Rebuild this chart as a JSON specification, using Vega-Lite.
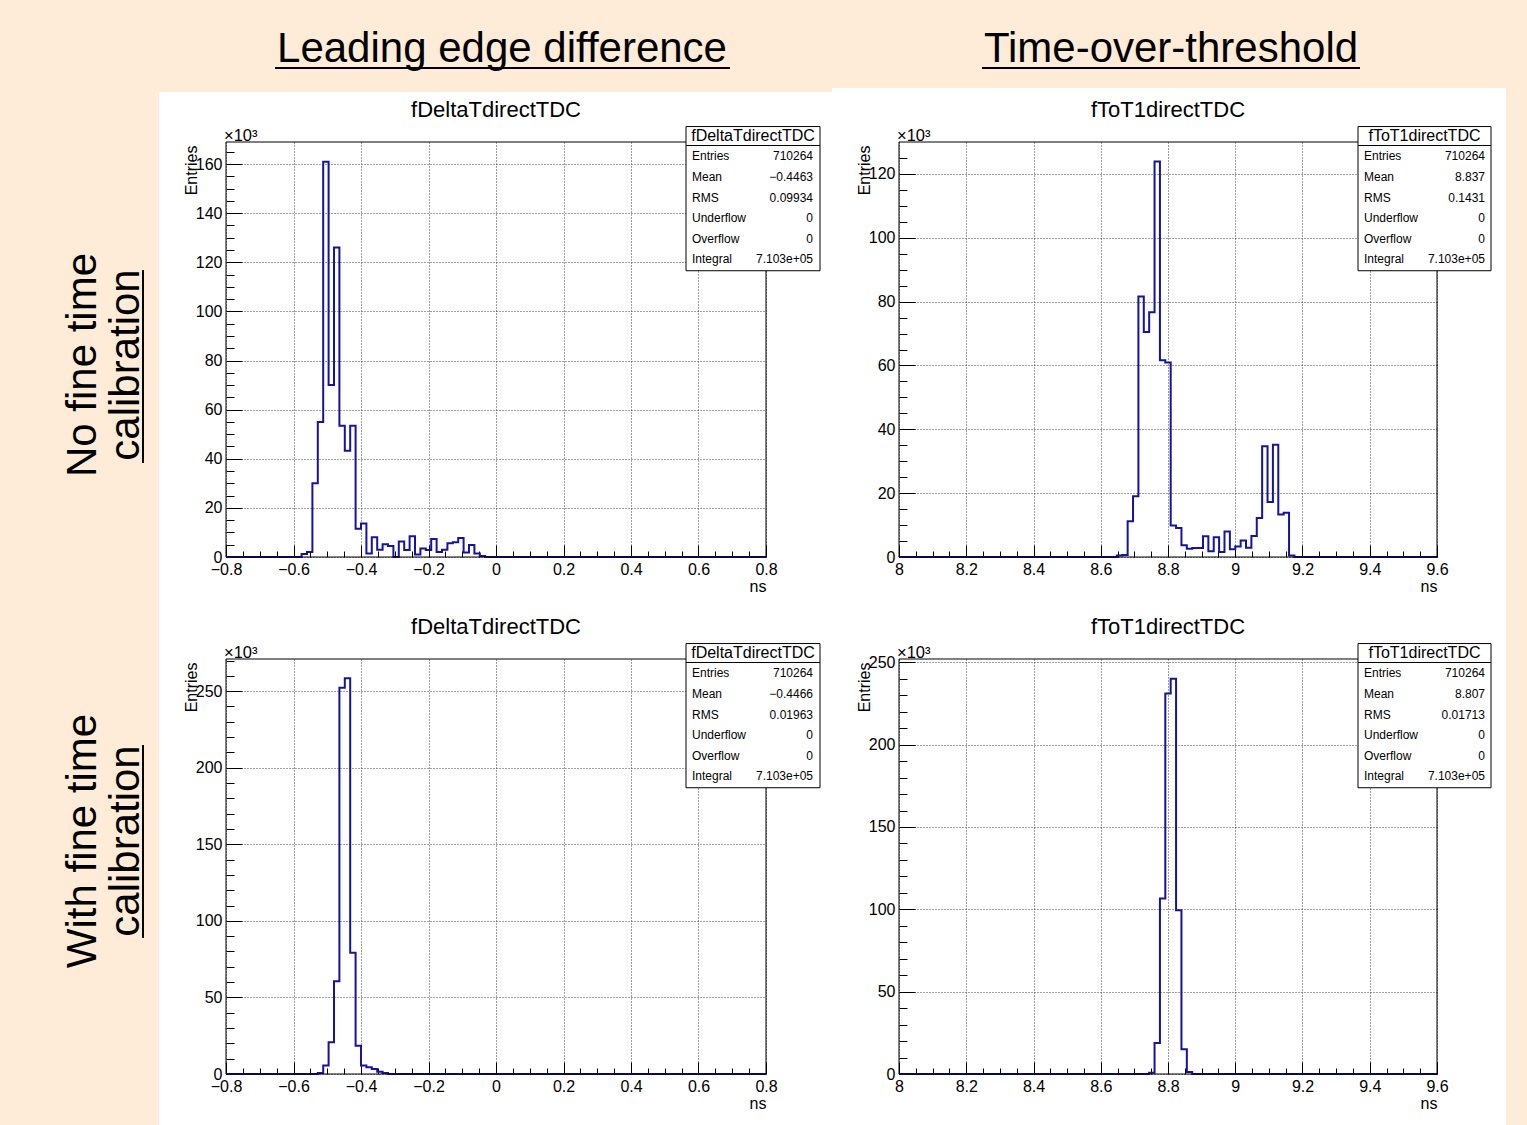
{
  "$schema": "https://vega.github.io/schema/vega-lite/v6.json",
  "background": "white",
  "autosize": {"type": "none"},
  "padding": {"left": 226, "top": 142, "right": 1301, "bottom": 983},
  "config": {
    "font": "Liberation Sans",
    "view": {"stroke": null},
    "text": {"color": "#000"},
    "axis": {
      "domain": false, "tickColor": "#000", "tickWidth": 1, "labelColor": "#000", "labelFontSize": 16,
      "labelFlush": false, "labelOverlap": false, "gridColor": "#222", "gridDash": [1, 2], "gridWidth": 1,
      "gridOpacity": 0.85, "titleColor": "#000", "titleFontWeight": "normal", "titleFontSize": 16
    }
  },
  "datasets": {
    "one": [{}],
    "hTL": [{"ns":-0.8,"kEntries":0},{"ns":-0.576,"kEntries":1.2},{"ns":-0.56,"kEntries":2},{"ns":-0.544,"kEntries":30},{"ns":-0.528,"kEntries":55},{"ns":-0.512,"kEntries":161},{"ns":-0.496,"kEntries":70},{"ns":-0.48,"kEntries":126},{"ns":-0.464,"kEntries":53.4},{"ns":-0.448,"kEntries":43.3},{"ns":-0.432,"kEntries":53.4},{"ns":-0.416,"kEntries":11.5},{"ns":-0.4,"kEntries":13.6},{"ns":-0.384,"kEntries":1.4},{"ns":-0.368,"kEntries":8},{"ns":-0.352,"kEntries":3},{"ns":-0.336,"kEntries":5.2},{"ns":-0.32,"kEntries":4.5},{"ns":-0.304,"kEntries":0},{"ns":-0.288,"kEntries":6.3},{"ns":-0.272,"kEntries":2.8},{"ns":-0.256,"kEntries":8.4},{"ns":-0.24,"kEntries":1},{"ns":-0.224,"kEntries":3.5},{"ns":-0.208,"kEntries":2.8},{"ns":-0.192,"kEntries":7.3},{"ns":-0.176,"kEntries":2},{"ns":-0.16,"kEntries":3},{"ns":-0.144,"kEntries":5.6},{"ns":-0.128,"kEntries":6},{"ns":-0.112,"kEntries":7.7},{"ns":-0.096,"kEntries":1.8},{"ns":-0.08,"kEntries":4.9},{"ns":-0.064,"kEntries":1.4},{"ns":-0.048,"kEntries":0.4},{"ns":-0.032,"kEntries":0},{"ns":0.8,"kEntries":0}],
    "hTR": [{"ns":8,"kEntries":0},{"ns":8.648,"kEntries":0.5},{"ns":8.664,"kEntries":0.6},{"ns":8.68,"kEntries":11.2},{"ns":8.696,"kEntries":19},{"ns":8.712,"kEntries":81.6},{"ns":8.728,"kEntries":70.5},{"ns":8.744,"kEntries":76.7},{"ns":8.76,"kEntries":123.9},{"ns":8.776,"kEntries":61.6},{"ns":8.792,"kEntries":60.9},{"ns":8.808,"kEntries":9.9},{"ns":8.824,"kEntries":9.1},{"ns":8.84,"kEntries":3.7},{"ns":8.856,"kEntries":2.6},{"ns":8.872,"kEntries":2.8},{"ns":8.888,"kEntries":2.8},{"ns":8.904,"kEntries":6.5},{"ns":8.92,"kEntries":1.8},{"ns":8.936,"kEntries":6.2},{"ns":8.952,"kEntries":1.6},{"ns":8.968,"kEntries":8},{"ns":8.984,"kEntries":2.4},{"ns":9,"kEntries":3.3},{"ns":9.016,"kEntries":5.2},{"ns":9.032,"kEntries":2.9},{"ns":9.048,"kEntries":6.6},{"ns":9.064,"kEntries":12.2},{"ns":9.08,"kEntries":34.7},{"ns":9.096,"kEntries":17.2},{"ns":9.112,"kEntries":35.2},{"ns":9.128,"kEntries":13.3},{"ns":9.144,"kEntries":13.9},{"ns":9.16,"kEntries":0.5},{"ns":9.176,"kEntries":0},{"ns":9.6,"kEntries":0}],
    "hBL": [{"ns":-0.8,"kEntries":0},{"ns":-0.528,"kEntries":0.6},{"ns":-0.512,"kEntries":5.5},{"ns":-0.496,"kEntries":20.7},{"ns":-0.48,"kEntries":60.6},{"ns":-0.464,"kEntries":252.2},{"ns":-0.448,"kEntries":258.5},{"ns":-0.432,"kEntries":79.1},{"ns":-0.416,"kEntries":18.5},{"ns":-0.4,"kEntries":5.5},{"ns":-0.384,"kEntries":4.4},{"ns":-0.368,"kEntries":3.3},{"ns":-0.352,"kEntries":1.5},{"ns":-0.336,"kEntries":0.6},{"ns":-0.32,"kEntries":0},{"ns":0.8,"kEntries":0}],
    "hBR": [{"ns":8,"kEntries":0},{"ns":8.744,"kEntries":0.8},{"ns":8.76,"kEntries":18.9},{"ns":8.776,"kEntries":106.5},{"ns":8.792,"kEntries":231},{"ns":8.808,"kEntries":240},{"ns":8.824,"kEntries":99.5},{"ns":8.84,"kEntries":15},{"ns":8.856,"kEntries":1.2},{"ns":8.872,"kEntries":0},{"ns":9.6,"kEntries":0}],
    "sTL": [{"line":1,"label":"Entries","value":"710264"},{"line":2,"label":"Mean","value":"−0.4463"},{"line":3,"label":"RMS","value":"0.09934"},{"line":4,"label":"Underflow","value":"0"},{"line":5,"label":"Overflow","value":"0"},{"line":6,"label":"Integral","value":"7.103e+05"}],
    "sTR": [{"line":1,"label":"Entries","value":"710264"},{"line":2,"label":"Mean","value":"8.837"},{"line":3,"label":"RMS","value":"0.1431"},{"line":4,"label":"Underflow","value":"0"},{"line":5,"label":"Overflow","value":"0"},{"line":6,"label":"Integral","value":"7.103e+05"}],
    "sBL": [{"line":1,"label":"Entries","value":"710264"},{"line":2,"label":"Mean","value":"−0.4466"},{"line":3,"label":"RMS","value":"0.01963"},{"line":4,"label":"Underflow","value":"0"},{"line":5,"label":"Overflow","value":"0"},{"line":6,"label":"Integral","value":"7.103e+05"}],
    "sBR": [{"line":1,"label":"Entries","value":"710264"},{"line":2,"label":"Mean","value":"8.807"},{"line":3,"label":"RMS","value":"0.01713"},{"line":4,"label":"Underflow","value":"0"},{"line":5,"label":"Overflow","value":"0"},{"line":6,"label":"Integral","value":"7.103e+05"}]
  },
  "columns": 2,
  "spacing": {"row": 102, "column": 133},
  "bounds": "flush",
  "concat": [
    {
      "width": 540, "height": 415,
      "data": {"name": "one"},
      "layer": [
        {
          "layer": [
            {"mark": {"type": "rect", "fill": "#FEECD9"},
             "encoding": {"x": {"datum": -1.4993, "type": "quantitative", "axis": null, "scale": {"domain": [-0.8, 0.8], "nice": false, "zero": false}}, "x2": {"datum": -0.9985},
                          "y": {"datum": 231, "type": "quantitative", "axis": null, "scale": {"domain": [0, 169], "nice": false, "zero": false}}, "y2": {"datum": -236}}},
            {"mark": {"type": "rect", "fill": "#FEECD9"},
             "encoding": {"x": {"datum": -1.4993, "type": "quantitative", "axis": null}, "x2": {"datum": 0.9956},
                          "y": {"datum": 231, "type": "quantitative", "axis": null}, "y2": {"datum": 189.36}}},
            {"data": {"name": "hTL"},
             "mark": {"type": "line", "interpolate": "step-after", "color": "#14149c", "strokeWidth": 2},
             "encoding": {
               "x": {"field": "ns", "type": "quantitative", "axis": {"orient": "bottom", "values": [-0.8,-0.6,-0.4,-0.2,0,0.2,0.4,0.6,0.8], "labelExpr": "format(datum.value, '~g')", "grid": true, "tickSize": -12, "labelPadding": 16, "title": "ns", "titleAnchor": "end", "titlePadding": 1}},
               "y": {"field": "kEntries", "type": "quantitative", "axis": {"orient": "left", "values": [0,20,40,60,80,100,120,140,160], "labelExpr": "format(datum.value, '~g')", "grid": true, "tickSize": -16, "labelPadding": 20, "title": "Entries", "titleAngle": 270, "titleAlign": "right", "titleBaseline": "alphabetic", "titleX": -30, "titleY": 3}}
             }},
            {"mark": {"type": "rect", "filled": false, "stroke": "#000", "strokeWidth": 1},
             "encoding": {
               "x": {"datum": -0.8, "type": "quantitative", "axis": {"orient": "bottom", "values": [-0.75,-0.7,-0.65,-0.55,-0.5,-0.45,-0.35,-0.3,-0.25,-0.15,-0.1,-0.05,0.05,0.1,0.15,0.25,0.3,0.35,0.45,0.5,0.55,0.65,0.7,0.75], "labels": false, "grid": false, "tickSize": -6, "title": null}},
               "x2": {"datum": 0.8},
               "y": {"datum": 0, "type": "quantitative", "axis": {"orient": "left", "values": [5,10,15,25,30,35,45,50,55,65,70,75,85,90,95,105,110,115,125,130,135,145,150,155,165], "labels": false, "grid": false, "tickSize": -8, "title": null}},
               "y2": {"datum": 169}
             }},
            {"mark": {"type": "text", "text": "×10³", "align": "left", "baseline": "alphabetic", "fontSize": 16.5, "dx": -2, "dy": -1},
             "encoding": {"x": {"datum": -0.8, "type": "quantitative", "axis": null}, "y": {"datum": 169, "type": "quantitative", "axis": null}}},
            {"mark": {"type": "text", "text": "fDeltaTdirectTDC", "align": "center", "baseline": "alphabetic", "fontSize": 22},
             "encoding": {"x": {"datum": 0, "type": "quantitative", "axis": null}, "y": {"datum": 179.18, "type": "quantitative", "axis": null}}},
            {"mark": {"type": "text", "text": "Leading edge difference", "align": "center", "baseline": "alphabetic", "fontSize": 42},
             "encoding": {"x": {"datum": 0.0178, "type": "quantitative", "axis": null}, "y": {"datum": 201.58, "type": "quantitative", "axis": null}}},
            {"mark": {"type": "rule", "stroke": "#000", "strokeWidth": 2},
             "encoding": {"x": {"datum": -0.6548, "type": "quantitative", "axis": null}, "x2": {"datum": 0.6933}, "y": {"datum": 199.14, "type": "quantitative", "axis": null}}},
            {"mark": {"type": "text", "text": "No fine time", "align": "center", "baseline": "alphabetic", "angle": 270, "fontSize": 42},
             "encoding": {"x": {"datum": -1.1852, "type": "quantitative", "axis": null}, "y": {"datum": 78.19, "type": "quantitative", "axis": null}}},
            {"mark": {"type": "text", "text": "calibration", "align": "center", "baseline": "alphabetic", "angle": 270, "fontSize": 42},
             "encoding": {"x": {"datum": -1.0578, "type": "quantitative", "axis": null}, "y": {"datum": 78.19, "type": "quantitative", "axis": null}}},
            {"mark": {"type": "rule", "stroke": "#000", "strokeWidth": 2},
             "encoding": {"x": {"datum": -1.0459, "type": "quantitative", "axis": null}, "y": {"datum": 116.87, "type": "quantitative", "axis": null}, "y2": {"datum": 38.28}}}
          ],
          "resolve": {"axis": {"x": "independent", "y": "independent"}}
        },
        {
          "layer": [
            {"mark": {"type": "rect", "fill": "white", "stroke": "#000", "strokeWidth": 1},
             "encoding": {"x": {"datum": 0.563, "type": "quantitative", "axis": null}, "x2": {"datum": 0.96},
                          "y": {"datum": -0.45, "type": "quantitative", "axis": null, "scale": {"domain": [0.3, 20.446], "reverse": true, "nice": false, "zero": false}}, "y2": {"datum": 6.55}}},
            {"mark": {"type": "rule", "stroke": "#000", "strokeWidth": 1},
             "encoding": {"x": {"datum": 0.563, "type": "quantitative", "axis": null}, "x2": {"datum": 0.96}, "y": {"datum": 0.47, "type": "quantitative", "axis": null}}},
            {"mark": {"type": "text", "text": "fDeltaTdirectTDC", "align": "center", "baseline": "middle", "fontSize": 16},
             "encoding": {"x": {"datum": 0.7615, "type": "quantitative", "axis": null}, "y": {"datum": 0, "type": "quantitative", "axis": null}}},
            {"data": {"name": "sTL"},
             "mark": {"type": "text", "align": "left", "baseline": "middle", "fontSize": 12},
             "encoding": {"x": {"datum": 0.5807, "type": "quantitative", "axis": null}, "y": {"field": "line", "type": "quantitative", "axis": null}, "text": {"field": "label"}}},
            {"data": {"name": "sTL"},
             "mark": {"type": "text", "align": "right", "baseline": "middle", "fontSize": 12},
             "encoding": {"x": {"datum": 0.9393, "type": "quantitative", "axis": null}, "y": {"field": "line", "type": "quantitative", "axis": null}, "text": {"field": "value"}}}
          ]
        }
      ],
      "resolve": {"scale": {"y": "independent"}, "axis": {"x": "independent", "y": "independent"}}
    },
    {
      "width": 538, "height": 415,
      "data": {"name": "one"},
      "layer": [
        {
          "layer": [
            {"mark": {"type": "rect", "fill": "#FEECD9"},
             "encoding": {"x": {"datum": 7.7948, "type": "quantitative", "axis": null, "scale": {"domain": [8, 9.6], "nice": false, "zero": false}}, "x2": {"datum": 9.9063},
                          "y": {"datum": 177.6, "type": "quantitative", "axis": null, "scale": {"domain": [0, 130], "nice": false, "zero": false}}, "y2": {"datum": 146.9}}},
            {"mark": {"type": "rect", "fill": "#FEECD9"},
             "encoding": {"x": {"datum": 9.8052, "type": "quantitative", "axis": null}, "x2": {"datum": 9.9063},
                          "y": {"datum": 177.6, "type": "quantitative", "axis": null}, "y2": {"datum": -181.1}}},
            {"data": {"name": "hTR"},
             "mark": {"type": "line", "interpolate": "step-after", "color": "#14149c", "strokeWidth": 2},
             "encoding": {
               "x": {"field": "ns", "type": "quantitative", "axis": {"orient": "bottom", "values": [8,8.2,8.4,8.6,8.8,9,9.2,9.4,9.6], "labelExpr": "format(datum.value, '~g')", "grid": true, "tickSize": -12, "labelPadding": 16, "title": "ns", "titleAnchor": "end", "titlePadding": 1}},
               "y": {"field": "kEntries", "type": "quantitative", "axis": {"orient": "left", "values": [0,20,40,60,80,100,120], "labelExpr": "format(datum.value, '~g')", "grid": true, "tickSize": -16, "labelPadding": 20, "title": "Entries", "titleAngle": 270, "titleAlign": "right", "titleBaseline": "alphabetic", "titleX": -30, "titleY": 3}}
             }},
            {"mark": {"type": "rect", "filled": false, "stroke": "#000", "strokeWidth": 1},
             "encoding": {
               "x": {"datum": 8, "type": "quantitative", "axis": {"orient": "bottom", "values": [8.05,8.1,8.15,8.25,8.3,8.35,8.45,8.5,8.55,8.65,8.7,8.75,8.85,8.9,8.95,9.05,9.1,9.15,9.25,9.3,9.35,9.45,9.5,9.55], "labels": false, "grid": false, "tickSize": -6, "title": null}},
               "x2": {"datum": 9.6},
               "y": {"datum": 0, "type": "quantitative", "axis": {"orient": "left", "values": [5,10,15,25,30,35,45,50,55,65,70,75,85,90,95,105,110,115,125], "labels": false, "grid": false, "tickSize": -8, "title": null}},
               "y2": {"datum": 130}
             }},
            {"mark": {"type": "text", "text": "×10³", "align": "left", "baseline": "alphabetic", "fontSize": 16.5, "dx": -2, "dy": -1},
             "encoding": {"x": {"datum": 8, "type": "quantitative", "axis": null}, "y": {"datum": 130, "type": "quantitative", "axis": null}}},
            {"mark": {"type": "text", "text": "fToT1directTDC", "align": "center", "baseline": "alphabetic", "fontSize": 22},
             "encoding": {"x": {"datum": 8.8, "type": "quantitative", "axis": null}, "y": {"datum": 137.8, "type": "quantitative", "axis": null}}},
            {"mark": {"type": "text", "text": "Time-over-threshold", "align": "center", "baseline": "alphabetic", "fontSize": 42},
             "encoding": {"x": {"datum": 8.8089, "type": "quantitative", "axis": null}, "y": {"datum": 155.06, "type": "quantitative", "axis": null}}},
            {"mark": {"type": "rule", "stroke": "#000", "strokeWidth": 2},
             "encoding": {"x": {"datum": 8.2468, "type": "quantitative", "axis": null}, "x2": {"datum": 9.371}, "y": {"datum": 153.18, "type": "quantitative", "axis": null}}}
          ],
          "resolve": {"axis": {"x": "independent", "y": "independent"}}
        },
        {
          "layer": [
            {"mark": {"type": "rect", "fill": "white", "stroke": "#000", "strokeWidth": 1},
             "encoding": {"x": {"datum": 9.3651, "type": "quantitative", "axis": null}, "x2": {"datum": 9.7606},
                          "y": {"datum": -0.45, "type": "quantitative", "axis": null, "scale": {"domain": [0.3, 20.446], "reverse": true, "nice": false, "zero": false}}, "y2": {"datum": 6.55}}},
            {"mark": {"type": "rule", "stroke": "#000", "strokeWidth": 1},
             "encoding": {"x": {"datum": 9.3651, "type": "quantitative", "axis": null}, "x2": {"datum": 9.7606}, "y": {"datum": 0.47, "type": "quantitative", "axis": null}}},
            {"mark": {"type": "text", "text": "fToT1directTDC", "align": "center", "baseline": "middle", "fontSize": 16},
             "encoding": {"x": {"datum": 9.5628, "type": "quantitative", "axis": null}, "y": {"datum": 0, "type": "quantitative", "axis": null}}},
            {"data": {"name": "sTR"},
             "mark": {"type": "text", "align": "left", "baseline": "middle", "fontSize": 12},
             "encoding": {"x": {"datum": 9.3829, "type": "quantitative", "axis": null}, "y": {"field": "line", "type": "quantitative", "axis": null}, "text": {"field": "label"}}},
            {"data": {"name": "sTR"},
             "mark": {"type": "text", "align": "right", "baseline": "middle", "fontSize": 12},
             "encoding": {"x": {"datum": 9.7427, "type": "quantitative", "axis": null}, "y": {"field": "line", "type": "quantitative", "axis": null}, "text": {"field": "value"}}}
          ]
        }
      ],
      "resolve": {"scale": {"y": "independent"}, "axis": {"x": "independent", "y": "independent"}}
    },
    {
      "width": 540, "height": 415,
      "data": {"name": "one"},
      "layer": [
        {
          "layer": [
            {"data": {"name": "hBL"},
             "mark": {"type": "line", "interpolate": "step-after", "color": "#14149c", "strokeWidth": 2},
             "encoding": {
               "x": {"field": "ns", "type": "quantitative", "scale": {"domain": [-0.8, 0.8], "nice": false, "zero": false}, "axis": {"orient": "bottom", "values": [-0.8,-0.6,-0.4,-0.2,0,0.2,0.4,0.6,0.8], "labelExpr": "format(datum.value, '~g')", "grid": true, "tickSize": -12, "labelPadding": 16, "title": "ns", "titleAnchor": "end", "titlePadding": 1}},
               "y": {"field": "kEntries", "type": "quantitative", "scale": {"domain": [0, 271], "nice": false, "zero": false}, "axis": {"orient": "left", "values": [0,50,100,150,200,250], "labelExpr": "format(datum.value, '~g')", "grid": true, "tickSize": -16, "labelPadding": 20, "title": "Entries", "titleAngle": 270, "titleAlign": "right", "titleBaseline": "alphabetic", "titleX": -30, "titleY": 3}}
             }},
            {"mark": {"type": "rect", "filled": false, "stroke": "#000", "strokeWidth": 1},
             "encoding": {
               "x": {"datum": -0.8, "type": "quantitative", "axis": {"orient": "bottom", "values": [-0.75,-0.7,-0.65,-0.55,-0.5,-0.45,-0.35,-0.3,-0.25,-0.15,-0.1,-0.05,0.05,0.1,0.15,0.25,0.3,0.35,0.45,0.5,0.55,0.65,0.7,0.75], "labels": false, "grid": false, "tickSize": -6, "title": null}},
               "x2": {"datum": 0.8},
               "y": {"datum": 0, "type": "quantitative", "axis": {"orient": "left", "values": [10,20,30,40,60,70,80,90,110,120,130,140,160,170,180,190,210,220,230,240,260,270], "labels": false, "grid": false, "tickSize": -8, "title": null}},
               "y2": {"datum": 271}
             }},
            {"mark": {"type": "text", "text": "×10³", "align": "left", "baseline": "alphabetic", "fontSize": 16.5, "dx": -2, "dy": -1},
             "encoding": {"x": {"datum": -0.8, "type": "quantitative", "axis": null}, "y": {"datum": 271, "type": "quantitative", "axis": null}}},
            {"mark": {"type": "text", "text": "fDeltaTdirectTDC", "align": "center", "baseline": "alphabetic", "fontSize": 22},
             "encoding": {"x": {"datum": 0, "type": "quantitative", "axis": null}, "y": {"datum": 287.3, "type": "quantitative", "axis": null}}},
            {"mark": {"type": "text", "text": "With fine time", "align": "center", "baseline": "alphabetic", "angle": 270, "fontSize": 42},
             "encoding": {"x": {"datum": -1.1852, "type": "quantitative", "axis": null}, "y": {"datum": 152.15, "type": "quantitative", "axis": null}}},
            {"mark": {"type": "text", "text": "calibration", "align": "center", "baseline": "alphabetic", "angle": 270, "fontSize": 42},
             "encoding": {"x": {"datum": -1.0578, "type": "quantitative", "axis": null}, "y": {"datum": 152.15, "type": "quantitative", "axis": null}}},
            {"mark": {"type": "rule", "stroke": "#000", "strokeWidth": 2},
             "encoding": {"x": {"datum": -1.0459, "type": "quantitative", "axis": null}, "y": {"datum": 214.84, "type": "quantitative", "axis": null}, "y2": {"datum": 88.81}}}
          ],
          "resolve": {"axis": {"x": "independent", "y": "independent"}}
        },
        {
          "layer": [
            {"mark": {"type": "rect", "fill": "white", "stroke": "#000", "strokeWidth": 1},
             "encoding": {"x": {"datum": 0.563, "type": "quantitative", "axis": null}, "x2": {"datum": 0.96},
                          "y": {"datum": -0.45, "type": "quantitative", "axis": null, "scale": {"domain": [0.3, 20.446], "reverse": true, "nice": false, "zero": false}}, "y2": {"datum": 6.55}}},
            {"mark": {"type": "rule", "stroke": "#000", "strokeWidth": 1},
             "encoding": {"x": {"datum": 0.563, "type": "quantitative", "axis": null}, "x2": {"datum": 0.96}, "y": {"datum": 0.47, "type": "quantitative", "axis": null}}},
            {"mark": {"type": "text", "text": "fDeltaTdirectTDC", "align": "center", "baseline": "middle", "fontSize": 16},
             "encoding": {"x": {"datum": 0.7615, "type": "quantitative", "axis": null}, "y": {"datum": 0, "type": "quantitative", "axis": null}}},
            {"data": {"name": "sBL"},
             "mark": {"type": "text", "align": "left", "baseline": "middle", "fontSize": 12},
             "encoding": {"x": {"datum": 0.5807, "type": "quantitative", "axis": null}, "y": {"field": "line", "type": "quantitative", "axis": null}, "text": {"field": "label"}}},
            {"data": {"name": "sBL"},
             "mark": {"type": "text", "align": "right", "baseline": "middle", "fontSize": 12},
             "encoding": {"x": {"datum": 0.9393, "type": "quantitative", "axis": null}, "y": {"field": "line", "type": "quantitative", "axis": null}, "text": {"field": "value"}}}
          ]
        }
      ],
      "resolve": {"scale": {"y": "independent"}, "axis": {"x": "independent", "y": "independent"}}
    },
    {
      "width": 538, "height": 415,
      "data": {"name": "one"},
      "layer": [
        {
          "layer": [
            {"data": {"name": "hBR"},
             "mark": {"type": "line", "interpolate": "step-after", "color": "#14149c", "strokeWidth": 2},
             "encoding": {
               "x": {"field": "ns", "type": "quantitative", "scale": {"domain": [8, 9.6], "nice": false, "zero": false}, "axis": {"orient": "bottom", "values": [8,8.2,8.4,8.6,8.8,9,9.2,9.4,9.6], "labelExpr": "format(datum.value, '~g')", "grid": true, "tickSize": -12, "labelPadding": 16, "title": "ns", "titleAnchor": "end", "titlePadding": 1}},
               "y": {"field": "kEntries", "type": "quantitative", "scale": {"domain": [0, 252], "nice": false, "zero": false}, "axis": {"orient": "left", "values": [0,50,100,150,200,250], "labelExpr": "format(datum.value, '~g')", "grid": true, "tickSize": -16, "labelPadding": 20, "title": "Entries", "titleAngle": 270, "titleAlign": "right", "titleBaseline": "alphabetic", "titleX": -30, "titleY": 3}}
             }},
            {"mark": {"type": "rect", "filled": false, "stroke": "#000", "strokeWidth": 1},
             "encoding": {
               "x": {"datum": 8, "type": "quantitative", "axis": {"orient": "bottom", "values": [8.05,8.1,8.15,8.25,8.3,8.35,8.45,8.5,8.55,8.65,8.7,8.75,8.85,8.9,8.95,9.05,9.1,9.15,9.25,9.3,9.35,9.45,9.5,9.55], "labels": false, "grid": false, "tickSize": -6, "title": null}},
               "x2": {"datum": 9.6},
               "y": {"datum": 0, "type": "quantitative", "axis": {"orient": "left", "values": [10,20,30,40,60,70,80,90,110,120,130,140,160,170,180,190,210,220,230,240], "labels": false, "grid": false, "tickSize": -8, "title": null}},
               "y2": {"datum": 252}
             }},
            {"mark": {"type": "text", "text": "×10³", "align": "left", "baseline": "alphabetic", "fontSize": 16.5, "dx": -2, "dy": -1},
             "encoding": {"x": {"datum": 8, "type": "quantitative", "axis": null}, "y": {"datum": 252, "type": "quantitative", "axis": null}}},
            {"mark": {"type": "text", "text": "fToT1directTDC", "align": "center", "baseline": "alphabetic", "fontSize": 22},
             "encoding": {"x": {"datum": 8.8, "type": "quantitative", "axis": null}, "y": {"datum": 267.2, "type": "quantitative", "axis": null}}}
          ],
          "resolve": {"axis": {"x": "independent", "y": "independent"}}
        },
        {
          "layer": [
            {"mark": {"type": "rect", "fill": "white", "stroke": "#000", "strokeWidth": 1},
             "encoding": {"x": {"datum": 9.3651, "type": "quantitative", "axis": null}, "x2": {"datum": 9.7606},
                          "y": {"datum": -0.45, "type": "quantitative", "axis": null, "scale": {"domain": [0.3, 20.446], "reverse": true, "nice": false, "zero": false}}, "y2": {"datum": 6.55}}},
            {"mark": {"type": "rule", "stroke": "#000", "strokeWidth": 1},
             "encoding": {"x": {"datum": 9.3651, "type": "quantitative", "axis": null}, "x2": {"datum": 9.7606}, "y": {"datum": 0.47, "type": "quantitative", "axis": null}}},
            {"mark": {"type": "text", "text": "fToT1directTDC", "align": "center", "baseline": "middle", "fontSize": 16},
             "encoding": {"x": {"datum": 9.5628, "type": "quantitative", "axis": null}, "y": {"datum": 0, "type": "quantitative", "axis": null}}},
            {"data": {"name": "sBR"},
             "mark": {"type": "text", "align": "left", "baseline": "middle", "fontSize": 12},
             "encoding": {"x": {"datum": 9.3829, "type": "quantitative", "axis": null}, "y": {"field": "line", "type": "quantitative", "axis": null}, "text": {"field": "label"}}},
            {"data": {"name": "sBR"},
             "mark": {"type": "text", "align": "right", "baseline": "middle", "fontSize": 12},
             "encoding": {"x": {"datum": 9.7427, "type": "quantitative", "axis": null}, "y": {"field": "line", "type": "quantitative", "axis": null}, "text": {"field": "value"}}}
          ]
        }
      ],
      "resolve": {"scale": {"y": "independent"}, "axis": {"x": "independent", "y": "independent"}}
    }
  ]
}
